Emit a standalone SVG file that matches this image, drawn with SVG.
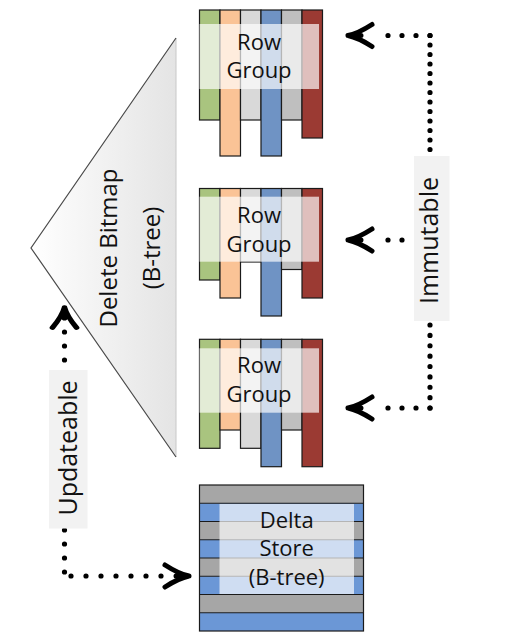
<svg xmlns="http://www.w3.org/2000/svg" xmlns:xlink="http://www.w3.org/1999/xlink" width="510" height="641" viewBox="0 0 510 641">
<style>
  .col { stroke: #1a1a1a; stroke-width: 1.2; }
  .g { fill: #A9C47F; } .p { fill: #FAC396; } .lg { fill: #D9D9D9; }
  .b { fill: #6F93C4; } .gr { fill: #BFBFBF; } .r { fill: #9B3A33; }
  .ov { fill: #FFFFFF; fill-opacity: 0.68; }
  .t { font-family: "Open Sans", "Liberation Sans", sans-serif; fill: #111111; text-anchor: middle; }
  .rg { font-size: 22px; }
  .lab { fill: #F2F2F2; }
  .dot { stroke: #000; stroke-width: 5.2; stroke-linecap: round; fill: none; }
  .ah { stroke: #000; stroke-width: 5; stroke-linecap: round; stroke-linejoin: round; fill: none; }
</style>
<defs>
  <linearGradient id="tri" x1="31" y1="0" x2="176" y2="0" gradientUnits="userSpaceOnUse">
    <stop offset="0" stop-color="#FFFFFF"/>
    <stop offset="1" stop-color="#E4E4E4"/>
  </linearGradient>
  <path id="arrow" d="M 25 -11 Q 11 -2 1 0 Q 11 2 25 11 M 1 0 L 14 0"/>
</defs>
<rect width="510" height="641" fill="#FFFFFF"/>

<g id="delete-bitmap">
  <polygon points="31,248 176,38 176,457" fill="url(#tri)"/>
  <line x1="176" y1="38" x2="176" y2="457" stroke="#C8C8C8" stroke-width="1"/>
  <polyline points="176,38 31,248 176,457" fill="none" stroke="#4a4a4a" stroke-width="1.2"/>
  <text class="t" font-size="24" transform="translate(116.5,248) rotate(-90)">Delete Bitmap</text>
  <text class="t" font-size="24" transform="translate(159.5,248) rotate(-90)">(B-tree)</text>
</g>

<g id="row-group-1">
  <rect class="col g" x="199.5" y="10" width="20.5" height="110"/>
  <rect class="col p" x="220" y="10" width="20.5" height="146"/>
  <rect class="col lg" x="240.5" y="10" width="20.5" height="110"/>
  <rect class="col b" x="261" y="10" width="20.5" height="146"/>
  <rect class="col gr" x="281.5" y="10" width="20.5" height="110"/>
  <rect class="col r" x="302" y="10" width="20.5" height="128"/>
  <rect class="ov" x="199.5" y="24" width="119.5" height="65"/>
  <text class="t rg" x="259" y="50">Row</text>
  <text class="t rg" x="259" y="77.5">Group</text>
</g>

<g id="row-group-2">
  <rect class="col g" x="199.5" y="188.5" width="20.5" height="91.5"/>
  <rect class="col p" x="220" y="188.5" width="20.5" height="109.5"/>
  <rect class="col lg" x="240.5" y="188.5" width="20.5" height="73.5"/>
  <rect class="col b" x="261" y="188.5" width="20.5" height="127.5"/>
  <rect class="col gr" x="281.5" y="188.5" width="20.5" height="81"/>
  <rect class="col r" x="302" y="188.5" width="20.5" height="109.5"/>
  <rect class="ov" x="199.5" y="196.7" width="119.5" height="65"/>
  <text class="t rg" x="259" y="223.3">Row</text>
  <text class="t rg" x="259" y="251.7">Group</text>
</g>

<g id="row-group-3">
  <rect class="col g" x="199.5" y="339.3" width="20.5" height="109"/>
  <rect class="col p" x="220" y="339.3" width="20.5" height="90.7"/>
  <rect class="col lg" x="240.5" y="339.3" width="20.5" height="109"/>
  <rect class="col b" x="261" y="339.3" width="20.5" height="127.4"/>
  <rect class="col gr" x="281.5" y="339.3" width="20.5" height="90.7"/>
  <rect class="col r" x="302" y="339.3" width="20.5" height="127.4"/>
  <rect class="ov" x="199.5" y="348.3" width="119.5" height="64.4"/>
  <text class="t rg" x="259" y="373.3">Row</text>
  <text class="t rg" x="259" y="401.7">Group</text>
</g>

<g id="delta-store">
  <rect x="199.5" y="485" width="164" height="18.25" fill="#A6A6A6"/>
  <rect x="199.5" y="503.25" width="164" height="18.25" fill="#6B97D6"/>
  <rect x="199.5" y="521.5" width="164" height="18.25" fill="#A6A6A6"/>
  <rect x="199.5" y="539.75" width="164" height="18.25" fill="#6B97D6"/>
  <rect x="199.5" y="558" width="164" height="18.25" fill="#A6A6A6"/>
  <rect x="199.5" y="576.25" width="164" height="18.25" fill="#6B97D6"/>
  <rect x="199.5" y="594.5" width="164" height="18.25" fill="#A6A6A6"/>
  <rect x="199.5" y="612.75" width="164" height="18.25" fill="#6B97D6"/>
  <g stroke="#1a1a1a" stroke-width="1">
    <line x1="199.5" y1="503.25" x2="363.5" y2="503.25"/>
    <line x1="199.5" y1="521.5" x2="363.5" y2="521.5"/>
    <line x1="199.5" y1="539.75" x2="363.5" y2="539.75"/>
    <line x1="199.5" y1="558" x2="363.5" y2="558"/>
    <line x1="199.5" y1="576.25" x2="363.5" y2="576.25"/>
    <line x1="199.5" y1="594.5" x2="363.5" y2="594.5"/>
    <line x1="199.5" y1="612.75" x2="363.5" y2="612.75"/>
  </g>
  <rect x="199.5" y="485" width="164" height="146" fill="none" stroke="#1a1a1a" stroke-width="1.2"/>
  <rect class="ov" x="219.5" y="504" width="134.5" height="90" fill-opacity="0.62"/>
  <text class="t rg" x="286.7" y="527.7">Delta</text>
  <text class="t rg" x="286.7" y="556">Store</text>
  <text class="t rg" x="286.7" y="585">(B-tree)</text>
</g>

<g id="connectors">
  <!-- Immutable -->
  <line class="dot" x1="430" y1="35.5" x2="387" y2="35.5" stroke-dasharray="0 14"/>
  <line class="dot" x1="430" y1="35.5" x2="430" y2="151" stroke-dasharray="0 9.5"/>
  <line class="dot" x1="402" y1="240" x2="387" y2="240" stroke-dasharray="0 14"/>
  <line class="dot" x1="430" y1="325" x2="430" y2="409" stroke-dasharray="0 10.375"/>
  <line class="dot" x1="430" y1="408" x2="387" y2="408" stroke-dasharray="0 14"/>
  <use xlink:href="#arrow" class="ah" transform="translate(347,35.5)"/>
  <use xlink:href="#arrow" class="ah" transform="translate(347,240)"/>
  <use xlink:href="#arrow" class="ah" transform="translate(347,408)"/>
  <rect class="lab" x="414" y="156" width="35.5" height="165"/>
  <text class="t" font-size="25" transform="translate(438.3,240.5) rotate(-90)">Immutable</text>
  <!-- Updateable -->
  <line class="dot" x1="64.5" y1="332" x2="64.5" y2="361" stroke-dasharray="0 14"/>
  <line class="dot" x1="64.5" y1="530" x2="64.5" y2="573" stroke-dasharray="0 14"/>
  <line class="dot" x1="71" y1="576" x2="162" y2="576" stroke-dasharray="0 15"/>
  <use xlink:href="#arrow" class="ah" transform="translate(64.5,306.5) rotate(90) scale(0.85,1.1)"/>
  <use xlink:href="#arrow" class="ah" transform="translate(190,576) rotate(180)"/>
  <rect class="lab" x="49" y="370" width="38.5" height="158.5"/>
  <text class="t" font-size="25" transform="translate(76.5,448) rotate(-90)">Updateable</text>
</g>
</svg>
